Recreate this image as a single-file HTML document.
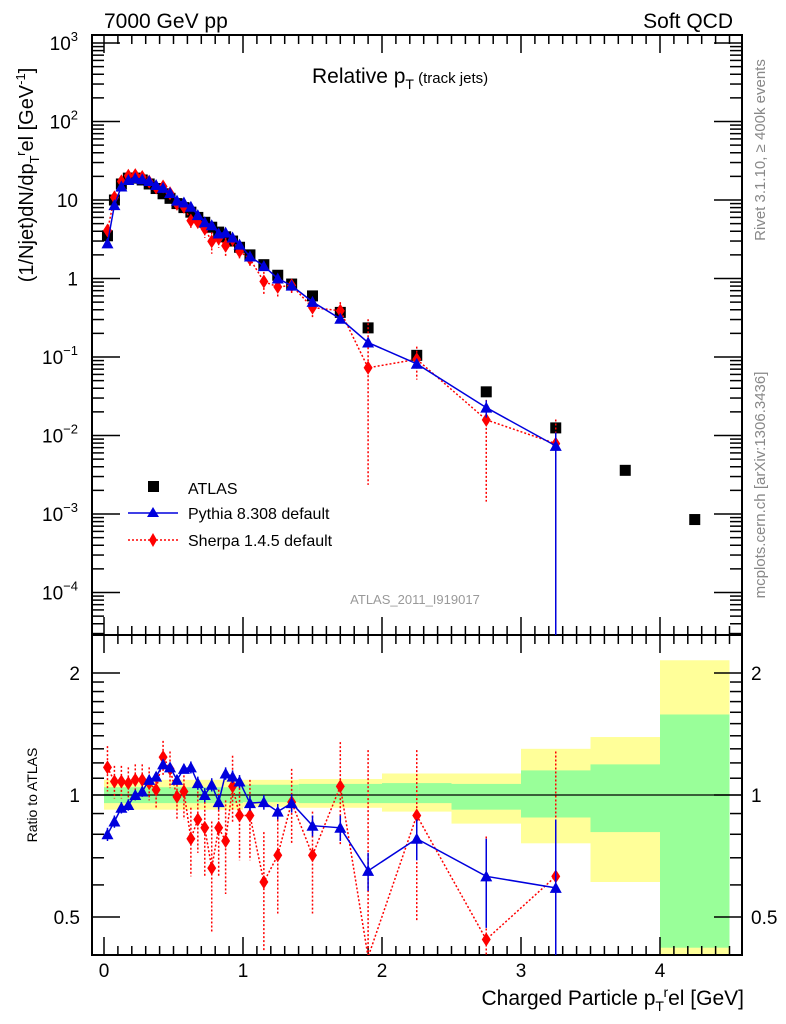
<!DOCTYPE html>
<html><head><meta charset="utf-8"><style>
html,body{margin:0;padding:0;background:#fff;width:786px;height:1024px;overflow:hidden;}
svg{display:block;font-family:"Liberation Sans",Arial,sans-serif;}
</style></head><body>
<svg id="c" width="786" height="1024" viewBox="0 0 786 1024" xmlns="http://www.w3.org/2000/svg">
<g id="bands"></g>
<g id="grid"></g>
<g id="series"></g>
<g id="labels">
<text x="104" y="28" font-size="21">7000 GeV pp</text>
<text x="733" y="28" font-size="21" text-anchor="end">Soft QCD</text>
<text x="312" y="83" font-size="21">Relative p<tspan font-size="14" dy="6">T</tspan><tspan font-size="15" dy="-6"> (track jets)</tspan></text>
<text transform="translate(765,150) rotate(-90)" font-size="15" fill="#888" text-anchor="middle">Rivet 3.1.10, ≥ 400k events</text>
<text transform="translate(765,485) rotate(-90)" font-size="15" fill="#888" text-anchor="middle">mcplots.cern.ch [arXiv:1306.3436]</text>
<text x="415" y="604" font-size="13" fill="#999" text-anchor="middle">ATLAS_2011_I919017</text>
<text transform="translate(33,175) rotate(-90)" font-size="20" text-anchor="middle">(1/Njet)dN/dp<tspan font-size="13" dy="6">T</tspan><tspan font-size="13" dy="-14">r</tspan><tspan dy="8">el [GeV</tspan><tspan font-size="13" dy="-8">-1</tspan><tspan dy="8">]</tspan></text>
<text transform="translate(37,795) rotate(-90)" font-size="14" text-anchor="middle">Ratio to ATLAS</text>
<text x="744" y="1005" font-size="21" text-anchor="end">Charged Particle p<tspan font-size="14" dy="6">T</tspan><tspan font-size="14" dy="-14">r</tspan><tspan dy="8">el [GeV]</tspan></text>
</g>
<g id="legend">
<g>
<rect x="148" y="481" width="11" height="11" fill="#000"/>
<text x="188" y="494" font-size="16">ATLAS</text></g>
<g>
<line x1="128" y1="513" x2="178" y2="513" stroke="#0000dd" stroke-width="1.5"/>
<polygon points="153,507 159,517 147,517" fill="#0000dd"/>
<text x="188" y="519" font-size="16">Pythia 8.308 default</text></g>
<g>
<line x1="128" y1="540" x2="178" y2="540" stroke="red" stroke-width="1.5" stroke-dasharray="2,2"/>
<polygon points="153,533 157,540 153,547 149,540" fill="red"/>
<text x="188" y="546" font-size="16">Sherpa 1.4.5 default</text></g>
</g>
</svg>
<script>
// ---- data ----
const xCenters=[0.025,0.075,0.125,0.175,0.225,0.275,0.325,0.375,0.425,0.475,0.525,0.575,0.625,0.675,0.725,0.775,0.825,0.875,0.925,0.975,1.05,1.15,1.25,1.35,1.5,1.7,1.9,2.25,2.75,3.25,3.75,4.25];
const atlasValues=[3.5,10,16,19,19,18,16,14,12,10.5,9,8,7,6,5.2,4.5,3.9,3.4,3.0,2.5,2.0,1.5,1.1,0.85,0.6,0.37,0.235,0.105,0.036,0.0125,0.0036,0.00085];
const pythiaRatio=[0.80,0.86,0.93,0.945,1.0,1.02,1.09,1.11,1.19,1.17,1.09,1.16,1.17,1.07,1.0,1.06,0.96,1.13,1.11,1.08,0.955,0.96,0.91,0.955,0.84,0.83,0.65,0.78,0.63,0.59];
const pythiaErrUp=[0.03,0.03,0.03,0.03,0.03,0.03,0.03,0.03,0.03,0.03,0.03,0.03,0.04,0.04,0.04,0.04,0.04,0.04,0.04,0.04,0.04,0.04,0.04,0.05,0.05,0.06,0.07,0.09,0.15,0.28];
const pythiaErrDn=[0.03,0.03,0.03,0.03,0.03,0.03,0.03,0.03,0.03,0.03,0.03,0.03,0.04,0.04,0.04,0.04,0.04,0.04,0.04,0.04,0.04,0.04,0.04,0.05,0.05,0.06,0.07,0.09,0.16,0.59];
const sherpaRatio=[1.17,1.08,1.08,1.07,1.09,1.09,1.07,1.03,1.24,1.16,0.99,1.02,0.78,0.87,0.83,0.66,0.83,0.77,1.05,0.89,0.89,0.61,0.71,0.96,0.71,1.05,0.31,0.89,0.44,0.63];
const sherpaErrUp=[0.15,0.1,0.1,0.1,0.1,0.1,0.1,0.1,0.12,0.12,0.12,0.15,0.15,0.15,0.2,0.2,0.2,0.2,0.2,0.2,0.2,0.2,0.2,0.2,0.2,0.3,0.98,0.4,0.35,0.65];
const sherpaErrDn=[0.15,0.1,0.1,0.1,0.1,0.1,0.1,0.1,0.12,0.12,0.12,0.15,0.15,0.15,0.2,0.2,0.2,0.2,0.2,0.2,0.2,0.2,0.2,0.2,0.2,0.3,0.3,0.4,0.4,0.63];
const bandEdges=[0,1.0,1.4,2.0,2.5,3.0,3.5,4.0,4.5];
const yellowHi=[1.09,1.09,1.095,1.13,1.13,1.30,1.39,2.15];
const yellowLo=[0.92,0.935,0.93,0.91,0.85,0.76,0.61,0.30];
const greenHi=[1.045,1.06,1.065,1.07,1.065,1.15,1.19,1.58];
const greenLo=[0.955,0.96,0.955,0.955,0.92,0.88,0.81,0.42];
const xTicks=[0,1,2,3,4];
const mainTickExp=[3,2,1,0,-1,-2,-3,-4];
const ratioTicks=[2,1,0.5];
// ---- axes ----
const L=92,R=742,T=35,MB=635,RB=955;
const X=v=>104+139*v;
const YM=v=>278.5-78.5*Math.log10(v);
const YR=v=>795-122*Math.log2(v);
const NS='http://www.w3.org/2000/svg';
function mk(p,tag,attrs){const e=document.createElementNS(NS,tag);for(const k in attrs)e.setAttribute(k,attrs[k]);p.appendChild(e);return e;}
const bands=document.getElementById('bands'),grid=document.getElementById('grid'),ser=document.getElementById('series');
for(let i=0;i<bandEdges.length-1;i++){
  const x1=X(bandEdges[i]),x2=Math.min(X(bandEdges[i+1]),R);
  const y1=Math.max(YR(yellowHi[i]),MB),y2=Math.min(YR(yellowLo[i]),RB);
  const r=mk(bands,'rect',{x:x1,y:y1,width:x2-x1,height:y2-y1,fill:'#ffff99'});
  
  
  const g1=Math.max(YR(greenHi[i]),MB),g2=Math.min(YR(greenLo[i]),RB);
  const g=mk(bands,'rect',{x:x1,y:g1,width:x2-x1,height:g2-g1,fill:'#99ff99'});
  
  
}
mk(grid,'line',{x1:L,y1:795,x2:R,y2:795,stroke:'#000','stroke-width':1.2});
mk(grid,'rect',{x:L,y:T,width:R-L,height:MB-T,fill:'none',stroke:'#000','stroke-width':2});
mk(grid,'rect',{x:L,y:MB,width:R-L,height:RB-MB,fill:'none',stroke:'#000','stroke-width':2});
for(let v=0;v<=4.5001;v+=0.1){
  const maj=Math.abs(v-Math.round(v))<1e-6;const len=maj?18:9;const x=X(v);
  [[T,1],[MB,-1],[MB,1],[RB,-1]].forEach(([y,d])=>mk(grid,'line',{x1:x,y1:y,x2:x,y2:y+d*len,stroke:'#000','stroke-width':1.5}));
}
xTicks.forEach(v=>{const t=mk(grid,'text',{x:X(v),y:977,'font-size':19,'text-anchor':'middle'});t.textContent=v;
  
  });
for(let e=-5;e<=3;e++){for(let m=1;m<10;m++){const v=m*Math.pow(10,e);const y=YM(v);if(y<T||y>MB)continue;
  const len=m==1?28:12;mk(grid,'line',{x1:L,y1:y,x2:L+len,y2:y,stroke:'#000','stroke-width':1.5});mk(grid,'line',{x1:R,y1:y,x2:R-len,y2:y,stroke:'#000','stroke-width':1.5});}}
mainTickExp.forEach(e=>{const y=YM(Math.pow(10,e))+7;let t;
  if(e==1)t=mk(grid,'text',{x:78,y:y,'font-size':19,'text-anchor':'end'}),t.textContent='10';
  else if(e==0)t=mk(grid,'text',{x:78,y:y,'font-size':19,'text-anchor':'end'}),t.textContent='1';
  else{t=mk(grid,'text',{x:78,y:y,'font-size':19,'text-anchor':'end'});const a=mk(t,'tspan',{});a.textContent='10';const b=mk(t,'tspan',{dy:-9,'font-size':13});b.textContent=e<0?'\u2212'+(-e):String(e);}
  
  });
[0.4,0.5,0.6,0.7,0.8,0.9,1,1.1,1.2,1.3,1.4,1.5,1.6,1.7,1.8,1.9,2].forEach(v=>{const y=YR(v);if(y<MB||y>RB)return;
  const len=(v==0.5||v==1||v==2)?28:12;mk(grid,'line',{x1:L,y1:y,x2:L+len,y2:y,stroke:'#000','stroke-width':1.5});mk(grid,'line',{x1:R,y1:y,x2:R-len,y2:y,stroke:'#000','stroke-width':1.5});});
ratioTicks.forEach(v=>{[[80,'end'],[751,'start']].forEach(([x,a])=>{const t=mk(grid,'text',{x:x,y:YR(v)+7,'font-size':19,'text-anchor':a});t.textContent=v;
  
  });});
const defs=mk(document.getElementById('c'),'defs',{});
const c1=mk(defs,'clipPath',{id:'cm'});mk(c1,'rect',{x:L,y:T,width:R-L,height:MB-T});
const c2=mk(defs,'clipPath',{id:'cr'});mk(c2,'rect',{x:L,y:MB,width:R-L,height:RB-MB});
const gm=mk(ser,'g',{'clip-path':'url(#cm)'}),gr=mk(ser,'g',{'clip-path':'url(#cr)'});
function drawMC(vals,up,dn,color,dash,marker,name){
  [[gm,true],[gr,false]].forEach(([g,main])=>{
    const lim=main?MB+2:RB+2;
    const pts=vals.map((r,i)=>{const x=X(xCenters[i]);
      const f=main?(v=>YM(v*atlasValues[i])):YR;
      return [x,f(r),f(r+up[i]),Math.min(f(Math.max(r-dn[i],1e-6)),lim)];});
    const line=mk(g,'polyline',{points:pts.map(p=>p[0]+','+Math.min(p[1],lim)).join(' '),fill:'none',stroke:color,'stroke-width':1.5,'stroke-dasharray':dash});
    
    
    pts.forEach(p=>{
      const e=mk(g,'line',{x1:p[0],y1:p[2],x2:p[0],y2:p[3],stroke:color,'stroke-width':1.5,'stroke-dasharray':dash});
      
      
      if(p[1]>lim)return;
      let m;
      if(marker=='tri')m=mk(g,'polygon',{points:`${p[0]},${p[1]-6} ${p[0]+6},${p[1]+5} ${p[0]-6},${p[1]+5}`,fill:color});
      else m=mk(g,'polygon',{points:`${p[0]},${p[1]-7} ${p[0]+4.5},${p[1]} ${p[0]},${p[1]+7} ${p[0]-4.5},${p[1]}`,fill:color});
      
      
    });
  });
}
atlasValues.forEach((v,i)=>{const x=X(xCenters[i]),y=YM(v);
  const r=mk(gm,'rect',{x:x-5.5,y:y-5.5,width:11,height:11,fill:'#000'});
  
  });
drawMC(sherpaRatio,sherpaErrUp,sherpaErrDn,'red','2,2','dia','sherpa');
drawMC(pythiaRatio,pythiaErrUp,pythiaErrDn,'#0000dd','none','tri','pythia');
</script>
</body></html>
